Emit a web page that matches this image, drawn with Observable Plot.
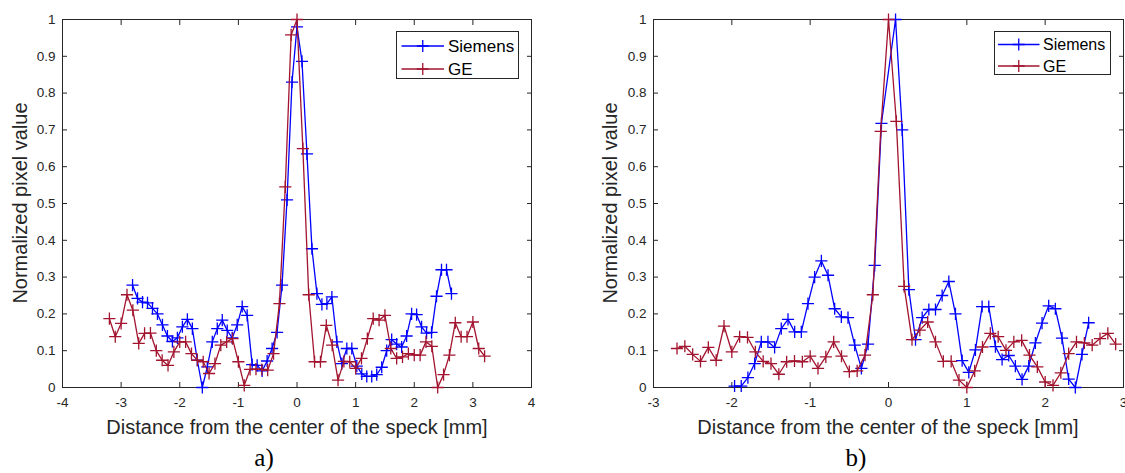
<!DOCTYPE html>
<html><head><meta charset="utf-8">
<script src="https://cdn.jsdelivr.net/npm/d3@7"></script>
<script src="https://cdn.jsdelivr.net/npm/@observablehq/plot@0.6"></script>
<style>
body{margin:0;background:#fff;}
#wrap{position:relative;width:1125px;height:473px;overflow:hidden;font-family:"Liberation Sans",Arial,sans-serif;color:#262626;background:#fff;}
.panel{position:absolute;top:0;}
.xlab{position:absolute;font-size:20px;white-space:nowrap;transform:translate(-50%,-50%);}
.ylab{position:absolute;font-size:20px;white-space:nowrap;transform:translate(-50%,-50%) rotate(-90deg);}
.cap{position:absolute;font-family:"Liberation Serif","DejaVu Serif",serif;font-size:25px;transform:translate(-50%,-50%);color:#000;}
.legend{position:absolute;border:1px solid #262626;background:#fff;box-sizing:border-box;}
.legend svg{position:absolute;left:0;top:0;}
</style></head>
<body><div id="wrap"></div>
<script>
// ---------- data ----------
const seriesNames = ["Siemens", "GE"];
const yTicks = [0, 0.1, 0.2, 0.3, 0.4, 0.5, 0.6, 0.7, 0.8, 0.9, 1];
const xTicksA = [-4, -3, -2, -1, 0, 1, 2, 3, 4];
const xTicksB = [-3, -2, -1, 0, 1, 2, 3];

// Panel a) Siemens
const siemensA_x = [-2.805,-2.72,-2.635,-2.55,-2.465,-2.38,-2.295,-2.21,-2.125,-2.04,-1.955,-1.87,-1.785,-1.70,-1.615,-1.53,-1.445,-1.36,-1.275,-1.19,-1.105,-1.02,-0.935,-0.85,-0.765,-0.68,-0.595,-0.51,-0.425,-0.34,-0.255,-0.17,-0.085,0,0.085,0.17,0.255,0.34,0.425,0.51,0.595,0.68,0.765,0.85,0.935,1.02,1.105,1.19,1.275,1.36,1.445,1.53,1.615,1.70,1.785,1.87,1.955,2.04,2.125,2.21,2.295,2.38,2.465,2.55,2.635];
const siemensA_y = [0.278,0.242,0.232,0.23,0.215,0.2,0.17,0.14,0.125,0.135,0.165,0.185,0.16,0.074,0.0,0.056,0.124,0.16,0.183,0.155,0.135,0.17,0.22,0.196,0.062,0.06,0.045,0.072,0.106,0.15,0.278,0.51,0.83,0.98,0.886,0.635,0.377,0.255,0.226,0.228,0.246,0.124,0.065,0.106,0.106,0.058,0.037,0.03,0.03,0.035,0.055,0.1,0.13,0.118,0.11,0.14,0.2,0.198,0.165,0.148,0.15,0.248,0.32,0.32,0.255];
// Panel a) GE
const geA_x = [-3.2,-3.1,-3.0,-2.9,-2.8,-2.7,-2.6,-2.5,-2.4,-2.3,-2.2,-2.1,-2.0,-1.9,-1.8,-1.7,-1.6,-1.5,-1.4,-1.3,-1.2,-1.1,-1.0,-0.9,-0.8,-0.7,-0.6,-0.5,-0.4,-0.3,-0.2,-0.1,0,0.1,0.2,0.3,0.4,0.5,0.6,0.7,0.8,0.9,1.0,1.1,1.2,1.3,1.4,1.5,1.6,1.7,1.8,1.9,2.0,2.1,2.2,2.3,2.4,2.5,2.6,2.7,2.8,2.9,3.0,3.1,3.2];
const geA_y = [0.187,0.138,0.174,0.252,0.21,0.12,0.147,0.148,0.1,0.074,0.06,0.097,0.124,0.124,0.092,0.074,0.07,0.038,0.065,0.115,0.124,0.133,0.07,0.006,0.049,0.05,0.049,0.047,0.092,0.228,0.545,0.958,1.0,0.649,0.252,0.07,0.07,0.169,0.115,0.02,0.071,0.07,0.052,0.079,0.133,0.187,0.183,0.196,0.106,0.079,0.083,0.092,0.088,0.088,0.124,0.112,0.0,0.035,0.088,0.176,0.138,0.138,0.178,0.106,0.085];

// Panel b) Siemens
const siemensB_x = [-1.965,-1.88,-1.795,-1.709,-1.624,-1.539,-1.454,-1.369,-1.283,-1.198,-1.113,-1.028,-0.943,-0.857,-0.772,-0.687,-0.602,-0.517,-0.431,-0.346,-0.261,-0.176,-0.09,0.09,0.175,0.26,0.345,0.43,0.515,0.60,0.685,0.77,0.855,0.94,1.025,1.11,1.195,1.28,1.365,1.45,1.535,1.62,1.705,1.79,1.875,1.96,2.045,2.13,2.215,2.30,2.385,2.47,2.555];
const siemensB_y = [0.004,0.004,0.027,0.065,0.124,0.124,0.109,0.16,0.185,0.151,0.151,0.228,0.3,0.344,0.305,0.214,0.192,0.19,0.115,0.052,0.118,0.332,0.718,1.0,0.70,0.266,0.13,0.19,0.212,0.212,0.25,0.288,0.2,0.073,0.041,0.102,0.22,0.22,0.111,0.076,0.087,0.058,0.022,0.058,0.121,0.175,0.222,0.214,0.134,0.023,0.0,0.09,0.176];
// Panel b) GE
const geB_x = [-2.7,-2.6,-2.5,-2.4,-2.3,-2.2,-2.1,-2.0,-1.9,-1.8,-1.7,-1.6,-1.5,-1.4,-1.3,-1.2,-1.1,-1.0,-0.9,-0.8,-0.7,-0.6,-0.5,-0.4,-0.3,-0.2,-0.1,0,0.1,0.2,0.3,0.4,0.5,0.6,0.7,0.8,0.9,1.0,1.1,1.2,1.3,1.4,1.5,1.6,1.7,1.8,1.9,2.0,2.1,2.2,2.3,2.4,2.5,2.6,2.7,2.8,2.9];
const geB_y = [0.106,0.112,0.09,0.071,0.109,0.074,0.167,0.097,0.138,0.136,0.097,0.071,0.065,0.036,0.07,0.072,0.07,0.085,0.052,0.083,0.124,0.085,0.043,0.045,0.088,0.252,0.696,1.0,0.723,0.275,0.13,0.156,0.178,0.124,0.071,0.071,0.02,0.0,0.045,0.11,0.147,0.138,0.101,0.124,0.128,0.088,0.056,0.015,0.006,0.04,0.092,0.124,0.121,0.115,0.133,0.147,0.118];

const xLabel = "Distance from the center of the speck [mm]";
const yLabel = "Normalized pixel value";
const captions = ["a)", "b)"];

// ---------- styling ----------
const BLUE = "#0000ff";
const RED = "#a2142f";
const AXIS = "#262626";
const LW = 1.3;
const MR = 4;

function makePanel({sx, sy, gx, gy, xdom, xticks, width, ml, mr}) {
  const siemens = sx.map((x, i) => ({x, y: sy[i]}));
  const ge = gx.map((x, i) => ({x, y: gy[i]}));
  const fmt = d => String(d);
  return Plot.plot({
    width, height: 473,
    marginLeft: ml, marginRight: mr, marginTop: 19, marginBottom: 86,
    style: {fontFamily: '"Liberation Sans", Arial, sans-serif', fontSize: "13.5px", color: AXIS, background: "transparent", overflow: "visible"},
    x: {domain: xdom},
    y: {domain: [0, 1]},
    marks: [
      Plot.frame({stroke: AXIS, strokeWidth: 1}),
      Plot.axisX(xticks, {anchor: "bottom", tickSize: 0, tickPadding: 10, tickFormat: fmt, label: null}),
      Plot.axisX(xticks, {anchor: "bottom", tickSize: -5, tickFormat: () => "", label: null}),
      Plot.axisX(xticks, {anchor: "top", tickSize: -5, tickFormat: () => "", label: null}),
      Plot.axisY(yTicks, {anchor: "left", tickSize: 0, tickPadding: 7, tickFormat: fmt, label: null}),
      Plot.axisY(yTicks, {anchor: "left", tickSize: -5, tickFormat: () => "", label: null}),
      Plot.axisY(yTicks, {anchor: "right", tickSize: -5, tickFormat: () => "", label: null}),
      Plot.line(siemens, {x: "x", y: "y", stroke: BLUE, strokeWidth: LW}),
      Plot.dot(siemens, {x: "x", y: "y", symbol: "plus", r: MR, stroke: BLUE, strokeWidth: LW}),
      Plot.line(ge, {x: "x", y: "y", stroke: RED, strokeWidth: LW}),
      Plot.dot(ge, {x: "x", y: "y", symbol: "plus", r: MR, stroke: RED, strokeWidth: LW})
    ]
  });
}

const wrap = document.getElementById("wrap");

function place(node, left) {
  node.classList.add("panel");
  node.style.left = left + "px";
  wrap.appendChild(node);
}

place(makePanel({sx: siemensA_x, sy: siemensA_y, gx: geA_x, gy: geA_y, xdom: [-4, 4], xticks: xTicksA, width: 560, ml: 62, mr: 29}), 0);
place(makePanel({sx: siemensB_x, sy: siemensB_y, gx: geB_x, gy: geB_y, xdom: [-3, 3], xticks: xTicksB, width: 565, ml: 93, mr: 2}), 560);

function addText(cls, text, x, y) {
  const d = document.createElement("div");
  d.className = cls;
  d.textContent = text;
  d.style.left = x + "px";
  d.style.top = y + "px";
  wrap.appendChild(d);
}
addText("xlab", xLabel, 297, 427);
addText("xlab", xLabel, 888, 427);
addText("ylab", yLabel, 20, 203);
addText("ylab", yLabel, 610, 203);
addText("cap", captions[0], 264, 458);
addText("cap", captions[1], 856, 458);

function addLegend({left, top, w, h, rows, x1, x2, tx, fs}) {
  const d = document.createElement("div");
  d.className = "legend";
  Object.assign(d.style, {left: left + "px", top: top + "px", width: w + "px", height: h + "px"});
  const svg = d3.create("svg").attr("width", w).attr("height", h);
  const colors = [BLUE, RED];
  seriesNames.forEach((name, i) => {
    const y = rows[i];
    const c = (x1 + x2) / 2;
    svg.append("line").attr("x1", x1).attr("x2", x2).attr("y1", y).attr("y2", y).attr("stroke", colors[i]).attr("stroke-width", LW);
    svg.append("path").attr("d", `M${c - 6},${y}H${c + 6}M${c},${y - 6}V${y + 6}`).attr("stroke", colors[i]).attr("stroke-width", LW).attr("fill", "none");
    svg.append("text").attr("x", tx).attr("y", y).attr("dy", "0.35em").attr("font-size", fs).attr("fill", "#000")
      .attr("font-family", '"Liberation Sans", Arial, sans-serif').text(name);
  });
  d.appendChild(svg.node());
  wrap.appendChild(d);
}
addLegend({left: 396, top: 31, w: 123, h: 48, rows: [14, 37], x1: 4.5, x2: 47, tx: 51, fs: 17});
addLegend({left: 994, top: 31, w: 117, h: 44, rows: [12.5, 34], x1: 3, x2: 44.5, tx: 48, fs: 16});
</script>
</body></html>
